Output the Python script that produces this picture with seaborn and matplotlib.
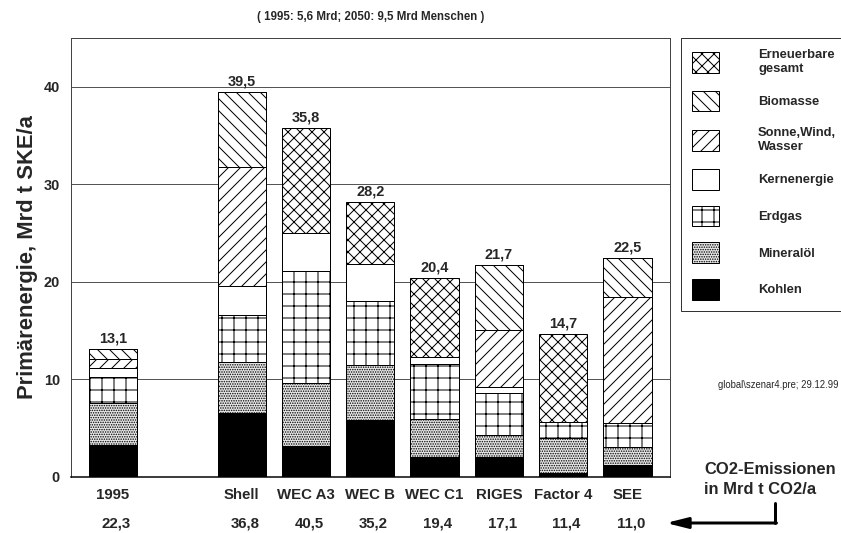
import numpy as np
import pandas as pd
import matplotlib
matplotlib.use('Agg')
import matplotlib.pyplot as plt
from matplotlib.patches import Patch
from matplotlib.lines import Line2D
from matplotlib.ticker import MultipleLocator
import seaborn as sns

# scenario data (Mrd t SKE/a)
scenarios = ["1995", "Shell", "WEC A3", "WEC B", "WEC C1", "RIGES", "Factor 4", "SEE"]
kohlen = [3.3, 6.6, 3.2, 5.8, 2.1, 2.0, 0.4, 1.2]
mineraloel = [4.3, 5.2, 6.4, 5.7, 3.8, 2.3, 3.55, 1.9]
erdgas = [2.7, 4.8, 11.5, 6.5, 5.7, 4.3, 1.7, 2.4]
kernenergie = [0.9, 3.0, 3.9, 3.8, 0.7, 0.6, 0.0, 0.0]
sonne_wind = [0.9, 12.2, 0.0, 0.0, 0.0, 5.9, 0.0, 13.0]
biomasse = [1.0, 7.7, 0.0, 0.0, 0.0, 6.6, 0.0, 4.0]
erneuerbare = [0.0, 0.0, 10.8, 6.4, 8.1, 0.0, 9.05, 0.0]
totals = [13.1, 39.5, 35.8, 28.2, 20.4, 21.7, 14.7, 22.5]
co2 = [22.3, 36.8, 40.5, 35.2, 19.4, 17.1, 11.4, 11.0]

# empty slot between 1995 and the scenarios
order = ["1995", " ", "Shell", "WEC A3", "WEC B", "WEC C1", "RIGES", "Factor 4", "SEE"]

sns.set_style("white")
plt.rcParams['font.family'] = ['Liberation Sans', 'DejaVu Sans']
plt.rcParams['font.weight'] = 'bold'
plt.rcParams['hatch.linewidth'] = 1.0

df = pd.DataFrame({
    "Szenario": scenarios,
    "Kohlen": kohlen,
    "Mineralöl": mineraloel,
    "Erdgas": erdgas,
    "Kernenergie": kernenergie,
    "Sonne,Wind,\nWasser": sonne_wind,
    "Biomasse": biomasse,
    "Erneuerbare\ngesamt": erneuerbare,
})
layers = ["Kohlen", "Mineralöl", "Erdgas", "Kernenergie",
          "Sonne,Wind,\nWasser", "Biomasse", "Erneuerbare\ngesamt"]
styles = {
    "Kohlen": ("black", ""),
    "Mineralöl": ("#e8e8e8", "....."),
    "Erdgas": ("white", "+"),
    "Kernenergie": ("white", ""),
    "Sonne,Wind,\nWasser": ("white", "//"),
    "Biomasse": ("white", "\\\\"),
    "Erneuerbare\ngesamt": ("white", "xx"),
}
cum = df[layers].cumsum(axis=1)
for col in layers:
    df["top_" + col] = cum[col]

# 72 dpi so that 1 pt == 1 px
fig = plt.figure(figsize=(841 / 72, 533 / 72), dpi=72)
ax = fig.add_axes([71 / 841, 1 - 477 / 533, (670 - 71) / 841, (477 - 38) / 533])

# stacked bars: draw cumulative tops from highest layer down
for col in reversed(layers):
    fc, hatch = styles[col]
    sns.barplot(data=df, x="Szenario", y="top_" + col, order=order, color=fc,
                saturation=1, width=0.75, hatch=hatch, edgecolor="black",
                linewidth=1, errorbar=None, ax=ax)

xpos = [order.index(s) for s in scenarios]
for x, t in zip(xpos, totals):
    ax.text(x, t + 0.35, f"{t:.1f}".replace(".", ","), ha="center", va="bottom",
            fontsize=14.5, fontweight="bold")
for x, c in zip(xpos, co2):
    ax.text(x + 0.05, -0.105, f"{c:.1f}".replace(".", ","), ha="center", va="center",
            fontsize=15, fontweight="bold", transform=ax.get_xaxis_transform())

ax.set_xlim(-0.653, 8.66)
ax.set_ylim(0, 45)
ax.yaxis.set_major_locator(MultipleLocator(10))
ax.yaxis.set_minor_locator(MultipleLocator(5))
ax.set_yticks([0, 10, 20, 30, 40])
ax.tick_params(axis="y", which="both", direction="in", length=7, width=1, pad=11,
               labelsize=14.5, color="#333333")
ax.tick_params(axis="x", length=0, pad=11, labelsize=15)
for lab in ax.get_xticklabels() + ax.get_yticklabels():
    lab.set_fontweight("bold")
ax.set_xlabel("")
ax.set_ylabel("Primärenergie, Mrd t SKE/a", fontsize=22, fontweight="bold", labelpad=6)
ax.set_axisbelow(True)
ax.yaxis.grid(True, color="#555555", linewidth=1)
for side in ["left", "top", "right"]:
    ax.spines[side].set_color("#444444")
    ax.spines[side].set_linewidth(1)
ax.spines["bottom"].set_color("black")
ax.spines["bottom"].set_linewidth(1.5)

fig.text(370.5 / 841, 1 - 17 / 533, "( 1995: 5,6 Mrd; 2050: 9,5 Mrd Menschen )",
         ha="center", va="center", fontsize=11.5, fontweight="bold")

handles = [Patch(facecolor=styles[c][0], hatch=styles[c][1], edgecolor="black", linewidth=1)
           for c in reversed(layers)]
leg = fig.legend(handles, list(reversed(layers)), loc="upper left",
                 bbox_to_anchor=(681 / 841, 1 - 38 / 533), bbox_transform=fig.transFigure,
                 borderaxespad=0, frameon=True, fancybox=False, edgecolor="black",
                 prop={"size": 13, "weight": "bold"}, handlelength=2.08, handleheight=2.08,
                 handletextpad=3.0, labelspacing=1.22, borderpad=0.85)
leg.get_frame().set_linewidth(1)

fig.text(838 / 841, 1 - 385 / 533, "global\\szenar4.pre; 29.12.99", ha="right", va="center",
         fontsize=9.5, fontweight="normal")
fig.text(704 / 841, 1 - 470 / 533, "CO2-Emissionen", ha="left", va="center",
         fontsize=16.5, fontweight="bold")
fig.text(704 / 841, 1 - 489 / 533, "in Mrd t CO2/a", ha="left", va="center",
         fontsize=16.5, fontweight="bold")

# arrow pointing to the CO2 row
fig.add_artist(Line2D([775 / 841, 775 / 841], [1 - 503 / 533, 1 - 523 / 533],
                      color="black", linewidth=3, transform=fig.transFigure))
ax.annotate("", xy=(666, 533 - 523), xytext=(776.5, 533 - 523),
            xycoords="figure pixels", textcoords="figure pixels",
            arrowprops=dict(arrowstyle="-|>,head_length=1.8,head_width=0.45",
                            color="black", linewidth=3, shrinkA=0, shrinkB=0))

fig.savefig("out.png", dpi=72)
